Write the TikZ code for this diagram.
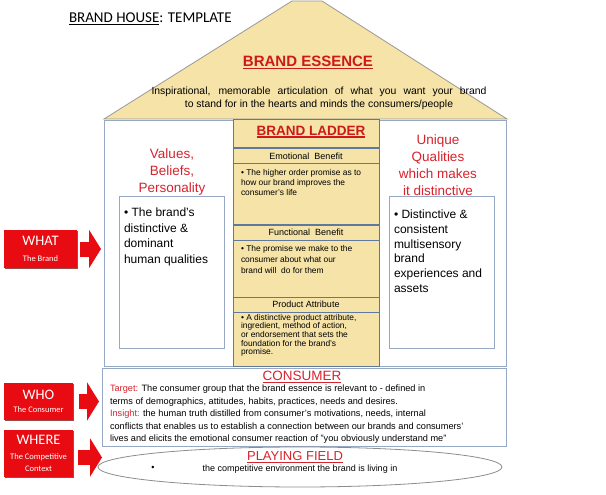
\documentclass[tikz,border=0pt]{standalone}
\usepackage{fontspec}
\setmainfont{Liberation Sans}
\newfontfamily\calibri{Carlito}
\usepackage{tikz}
\usetikzlibrary{positioning,shapes.geometric,shadows,arrows.meta}
\definecolor{RoofTan}{RGB}{245,227,168}
\definecolor{LadderEdge}{RGB}{95,120,155}
\definecolor{FrameEdge}{RGB}{150,168,195}
\definecolor{TagRed}{RGB}{232,12,18}
\definecolor{HeadRed}{RGB}{215,35,45}
\definecolor{EssenceRed}{RGB}{205,25,25}

\newcommand\pxfont[2]{\fontsize{#1}{#2}\selectfont}
\newcommand\thickunder[1]{\setbox0=\hbox{#1}\rlap{\rule[-2.5pt]{\wd0}{1.4pt}}\box0}

\begin{document}
\begin{tikzpicture}[x=1pt,y=-1pt,
       every node/.style={inner sep=0pt,outer sep=0pt},
       roof/.style={fill=RoofTan,draw=black!40,line width=.8pt},
       frame/.style={draw=FrameEdge,fill=white,line width=.8pt,anchor=north west},
       rung/.style={draw=LadderEdge,fill=RoofTan,line width=1pt,minimum width=146pt,anchor=north},
       rungtext/.style={anchor=north west,align=left,font=\pxfont{8.4}{10}},
       redhead/.style={text=HeadRed,align=center},
       tag/.style={fill=TagRed,text=white,align=center,font=\calibri\pxfont{8.5}{12},
                   drop shadow={shadow xshift=1.2pt,shadow yshift=-1.2pt,fill=red!45!black,opacity=.7}},
       tagarrow/.style={TagRed,line width=15pt,-{Triangle[length=12pt,width=38pt]}}]
	\useasboundingbox (0,0) rectangle (606,495);

	%% Title and roof
	\node[anchor=west,font=\calibri\pxfont{15}{18}] (title) at (69,19) {\underline{BRAND HOUSE}: TEMPLATE};
	\draw[roof] (104,119) -- (292,1) -- (322,1) -- (507,119) -- cycle;
	\node[font=\bfseries\pxfont{15}{18},text=EssenceRed] (essence) at (308,63) {\thickunder{BRAND ESSENCE}};
	\node[font=\pxfont{10.4}{13},align=center] (essencetext) at (319,98.5)
		{\makebox[335pt][s]{Inspirational, memorable articulation of what you want your brand}\\
		 \makebox[335pt]{to stand for in the hearts and minds the consumers/people}};

	%% Side walls
	\node[frame,minimum width=129pt,minimum height=246pt] (leftframe) at (104,120) {};
	\node[frame,minimum width=127pt,minimum height=246pt] (rightframe) at (379,120) {};
	\node[redhead,font=\pxfont{13.5}{17}] (values) at (172,172) {Values,\\Beliefs,\\Personality};
	\node[frame,minimum width=105pt,minimum height=152pt] (leftbox) at (119,196) {};
	\node[anchor=north west,align=left,font=\pxfont{12}{15.5}] (lefttext) at ([shift={(5,12)}]leftbox.north west)
		{• The brand's\\distinctive \&\\dominant\\human qualities};
	\node[redhead,font=\pxfont{13.5}{17}] (unique) at (438,165) {Unique\\Qualities\\which makes\\it distinctive};
	\node[frame,minimum width=105pt,minimum height=152pt] (rightbox) at (389,196) {};
	\node[anchor=north west,align=left,font=\pxfont{12}{14.7}] (righttext) at ([shift={(5,14)}]rightbox.north west)
		{• Distinctive \&\\consistent\\multisensory\\brand\\experiences and\\assets};

	%% Brand ladder
	\node[rung,minimum height=28pt] (ladder) at (306,120) {};
	\node[font=\bfseries\pxfont{13.5}{16},text=EssenceRed] (laddertitle) at (311,132) {\thickunder{BRAND LADDER}};
	\node[rung,minimum height=14pt,below=1pt of ladder,font=\pxfont{9}{11}] (emobar) {Emotional~~Benefit};
	\node[rung,minimum height=61pt,below=0pt of emobar] (emobox) {};
	\node[rung,minimum height=15pt,below=1pt of emobox,font=\pxfont{9}{11}] (funcbar) {Functional~~Benefit};
	\node[rung,minimum height=57pt,below=0pt of funcbar] (funcbox) {};
	\node[rung,minimum height=15pt,below=0pt of funcbox,font=\pxfont{9}{11}] (prodbar) {Product Attribute};
	\node[rung,minimum height=54pt,below=0pt of prodbar] (prodbox) {};
	\node[rungtext] (emotext) at ([shift={(8,6)}]emobox.north west)
		{• The higher order promise as to\\how our brand improves the\\consumer's life};
	\node[rungtext,font=\pxfont{8.4}{11}] (functext) at ([shift={(8,5)}]funcbox.north west)
		{• The promise we make to the\\consumer about what our\\brand will~ do for them};
	\node[rungtext,font=\pxfont{8.4}{8.7}] (prodtext) at ([shift={(8,2)}]prodbox.north west)
		{• A distinctive product attribute,\\ingredient, method of action,\\or endorsement that sets the\\foundation for the brand's\\promise.};

	%% Consumer
	\node[frame,minimum width=404pt,minimum height=78pt] (consumer) at (102,368) {};
	\node[redhead,font=\pxfont{13.5}{16}] (consumerhead) at (302,377) {\underline{CONSUMER}};
	\node[anchor=north west,align=left,font=\pxfont{9.2}{12.5}] (consumertext) at ([shift={(8,17)}]consumer.north west)
		{\textcolor{HeadRed}{Target:} The consumer group that the brand essence is relevant to - defined in\\
		 terms of demographics, attitudes, habits, practices, needs and desires.\\
		 \textcolor{HeadRed}{Insight:} the human truth distilled from consumer's motivations, needs, internal\\
		 conflicts that enables us to establish a connection between our brands and consumers'\\
		 lives and elicits the emotional consumer reaction of "you obviously understand me"};

	%% Playing field
	\node[draw=black!45,fill=white,ellipse,line width=.8pt,minimum width=404pt,minimum height=40pt] (field) at (300,467) {};
	\node[redhead,font=\pxfont{13}{15}] (fieldhead) at (295,457) {\underline{PLAYING FIELD}};
	\node[font=\pxfont{9}{10}] (bullet) at (153,468) {•};
	\node[font=\pxfont{9}{10}] (fieldtext) at (300,469.5) {the competitive environment the brand is living in};

	%% Red tags and their arrows
	\node[tag,minimum width=73pt,minimum height=38pt] (what) at (40.5,249)
		{{\pxfont{14.5}{16}WHAT}\\[4.5pt]The Brand};
	\node[tag,minimum width=69pt,minimum height=37pt] (who) at (38.5,401.5)
		{{\pxfont{14.5}{16}WHO}\\[1.5pt]The Consumer};
	\node[tag,minimum width=69pt,minimum height=47pt] (where) at (38.5,453.5)
		{{\pxfont{14.5}{16}WHERE}\\[2.5pt]The Competitive\\Context};
	\coordinate (wherein) at ([yshift=-4pt]where.east);
	\draw[tagarrow,shorten <=3pt,shorten >=3pt] (what.east) -- (what.east -| leftframe.west);
	\draw[tagarrow,shorten <=6pt,shorten >=3pt] (who.east) -- (who.east -| consumer.west);
	\draw[tagarrow,shorten <=5pt,shorten >=-4pt] (wherein) -- (wherein -| field.west);
\end{tikzpicture}
\end{document}
